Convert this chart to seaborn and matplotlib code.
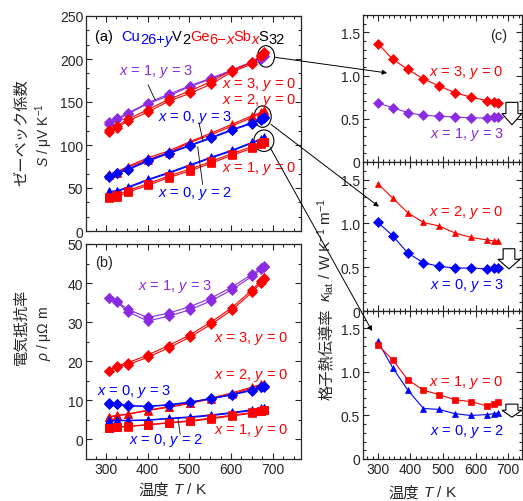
import numpy as np
import pandas as pd
import matplotlib
matplotlib.use("Agg")
import matplotlib.pyplot as plt
import matplotlib.transforms as mtransforms
from matplotlib.patches import Ellipse, FancyArrow, ConnectionPatch
from matplotlib.ticker import MultipleLocator, FuncFormatter
import seaborn as sns

# Style
sns.set_style("ticks")
plt.rcParams['font.family'] = ['Liberation Sans', 'Noto Sans CJK JP']
plt.rcParams['mathtext.fontset'] = 'custom'
plt.rcParams['mathtext.rm'] = 'Liberation Sans'
plt.rcParams['mathtext.it'] = 'Liberation Sans:italic'
plt.rcParams['axes.linewidth'] = 0.9

RED = '#ff0000'
BLUE = '#0000ff'
PURPLE = '#8a2be2'

# Temperatures (K)
T_S = [307, 327, 352, 400, 450, 502, 553, 602, 650, 672, 680]
T_K = [300, 345, 392, 440, 488, 537, 586, 635, 657, 670]

# (a) Seebeck coefficient, two runs each (uV/K)
S_x1y3_a = [125, 130, 136, 148, 157, 168, 177, 186, 196, 200, 203]
S_x1y3_b = [127, 131, 137, 149, 159, 169, 178, 187, 197, 201, 204]
S_x3_a = [115, 120, 128, 138, 151, 160, 171, 185, 194, 203, 207]
S_x3_b = [118, 122, 130, 141, 153, 163, 174, 187, 196, 205, 208]
S_x2_a = [65, 68, 74, 83, 91, 103, 112, 122, 132, 137, 140]
S_x2_b = [66, 69, 75, 85, 93, 104, 114, 124, 134, 138, 141]
S_x0y3_a = [63, 67, 71, 81, 90, 99, 108, 117, 125, 129, 131]
S_x0y3_b = [64, 68, 72, 82, 91, 100, 109, 118, 126, 130, 132]
S_x0y2_a = [45, 46, 50, 59, 67, 76, 85, 93, 102, 106, 108]
S_x0y2_b = [46, 47, 51, 60, 68, 77, 86, 94, 103, 107, 109]
S_x1_a = [38, 40, 45, 53, 62, 70, 79, 88, 96, 101, 103]
S_x1_b = [40, 42, 47, 55, 64, 72, 81, 90, 98, 102, 104]

# (b) electrical resistivity, two runs each (uOhm m)
R_x1y3_a = [36.2, 35.1, 32.7, 30.3, 31.5, 33.2, 35.5, 38.3, 41.7, 43.5, 44.1]
R_x1y3_b = [36.2, 35.3, 33.3, 31.2, 32.3, 34.0, 36.2, 39.0, 42.2, 43.8, 44.3]
R_x3_a = [17.5, 18.6, 19.1, 21.0, 23.4, 26.2, 29.5, 33.1, 37.6, 40.0, 41.1]
R_x3_b = [17.5, 18.9, 19.6, 21.6, 24.0, 26.8, 30.1, 33.7, 38.2, 40.5, 41.4]
R_x0y3_a = [9.2, 9.1, 8.7, 8.4, 8.8, 9.5, 10.4, 11.4, 12.5, 13.3, 13.5]
R_x0y3_b = [9.1, 9.0, 8.6, 8.5, 8.9, 9.6, 10.5, 11.5, 12.7, 13.4, 13.6]
R_x2_a = [5.7, 6.1, 6.4, 7.4, 8.2, 9.2, 10.4, 11.6, 13.1, 13.9, 14.2]
R_x2_b = [5.8, 6.2, 6.5, 7.5, 8.4, 9.4, 10.6, 11.9, 13.4, 14.1, 14.3]
R_x0y2_a = [4.8, 4.8, 4.8, 4.9, 5.3, 5.6, 6.1, 6.7, 7.4, 7.8, 8.0]
R_x0y2_b = [4.9, 4.9, 4.9, 5.0, 5.4, 5.8, 6.3, 6.9, 7.6, 8.0, 8.1]
R_x1_a = [2.9, 3.1, 3.3, 3.7, 4.2, 4.6, 5.3, 6.0, 6.7, 7.3, 7.5]
R_x1_b = [3.0, 3.2, 3.4, 3.8, 4.3, 4.8, 5.5, 6.2, 6.9, 7.4, 7.6]

# (c) lattice thermal conductivity (W/K/m)
K_x3 = [1.37, 1.19, 1.07, 0.96, 0.88, 0.80, 0.75, 0.71, 0.69, 0.68]
K_x1y3 = [0.68, 0.63, 0.57, 0.54, 0.53, 0.52, 0.51, 0.51, 0.52, 0.52]
K_x2 = [1.45, 1.29, 1.12, 1.01, 0.97, 0.89, 0.84, 0.81, 0.80, 0.80]
K_x0y3 = [1.01, 0.86, 0.66, 0.55, 0.51, 0.49, 0.49, 0.48, 0.49, 0.49]
K_x1 = [1.31, 1.14, 0.91, 0.79, 0.74, 0.68, 0.66, 0.61, 0.63, 0.66]
K_x0y2 = [1.35, 1.05, 0.79, 0.58, 0.57, 0.52, 0.50, 0.51, 0.52, 0.53]


def draw(ax, xs, ys, color, marker, ms=5.5):
    sns.lineplot(x=xs, y=ys, ax=ax, color=color, marker=marker, markersize=ms,
                 markeredgecolor=color, markeredgewidth=0.5, linewidth=0.8,
                 sort=False, estimator=None, legend=False)


def style(ax, xlim, ylim, xmaj, xmin, ymaj, ymin, xlabels=True):
    ax.set_xlim(*xlim)
    ax.set_ylim(*ylim)
    ax.xaxis.set_major_locator(MultipleLocator(xmaj))
    ax.xaxis.set_minor_locator(MultipleLocator(xmin))
    ax.yaxis.set_major_locator(MultipleLocator(ymaj))
    ax.yaxis.set_minor_locator(MultipleLocator(ymin))
    ax.tick_params(which='both', direction='in', top=True, right=True,
                   labelsize=10, pad=2, width=0.8)
    ax.tick_params(which='major', length=4)
    ax.tick_params(which='minor', length=2)
    ax.set_xlabel('')
    ax.set_ylabel('')
    if not xlabels:
        ax.tick_params(labelbottom=False)


def formula(ax, x0, y0, pieces, size=10.5):
    fig = ax.figure
    r = fig.canvas.get_renderer()
    dx = 0.0
    for s, c, it, sub in pieces:
        tr = mtransforms.offset_copy(ax.transAxes, fig=fig, x=dx,
                                     y=-2.5 if sub else 0, units='points')
        t = ax.text(x0, y0, s, transform=tr, color=c, fontsize=size,
                    fontstyle='italic' if it else 'normal',
                    ha='left', va='baseline')
        dx += t.get_window_extent(r).width * 72 / fig.dpi


def leader(ax, p1, p2):
    ax.annotate('', xy=p2, xytext=p1,
                arrowprops=dict(arrowstyle='-', lw=0.6, color='k',
                                shrinkA=0, shrinkB=0))


W, H = 523, 502
fig = plt.figure(figsize=(W / 100, H / 100), dpi=100)


def rect(x0, y0, x1, y1):
    return [x0 / W, 1 - y1 / H, (x1 - x0) / W, (y1 - y0) / H]


ax_a = fig.add_axes(rect(86, 17, 301, 232))
ax_b = fig.add_axes(rect(86, 245, 301, 460))
ax_c1 = fig.add_axes(rect(363, 16, 522, 163))
ax_c2 = fig.add_axes(rect(363, 163, 522, 312))
ax_c3 = fig.add_axes(rect(363, 312, 522, 460))

XL = (252, 768)
XR = (254, 743)
fs = 10.5

# ---- (a) Seebeck
for a, b, c, m in [(S_x1y3_a, S_x1y3_b, PURPLE, 'D'), (S_x3_a, S_x3_b, RED, 'D'),
                   (S_x2_a, S_x2_b, RED, '^'), (S_x0y3_a, S_x0y3_b, BLUE, 'D'),
                   (S_x0y2_a, S_x0y2_b, BLUE, '^'), (S_x1_a, S_x1_b, RED, 's')]:
    draw(ax_a, T_S, a, c, m)
    draw(ax_a, T_S, b, c, m)
style(ax_a, XL, (0, 250), 100, 25, 50, 50 / 3, xlabels=False)

formula(ax_a, 0.042, 0.89, [
    ('(a)  ', 'k', False, False), ('Cu', BLUE, False, False),
    ('26+', BLUE, False, True), ('y', BLUE, True, True),
    ('V', 'k', False, False), ('2', 'k', False, True),
    ('Ge', RED, False, False), ('6\u2212', RED, False, True),
    ('x', RED, True, True), ('Sb', RED, False, False),
    ('x', RED, True, True), ('S', 'k', False, False), ('32', 'k', False, True)])

ax_a.text(420, 187, '$x$ = 1, $y$ = 3', color=PURPLE, fontsize=fs, ha='center', va='center')
ax_a.text(757, 172, '$x$ = 3, $y$ = 0', color=RED, fontsize=fs, ha='right', va='center')
ax_a.text(757, 153, '$x$ = 2, $y$ = 0', color=RED, fontsize=fs, ha='right', va='center')
ax_a.text(513, 133, '$x$ = 0, $y$ = 3', color=BLUE, fontsize=fs, ha='center', va='center')
ax_a.text(757, 74, '$x$ = 1, $y$ = 0', color=RED, fontsize=fs, ha='right', va='center')
ax_a.text(513, 45, '$x$ = 0, $y$ = 2', color=BLUE, fontsize=fs, ha='center', va='center')
leader(ax_a, (401, 170), (418, 152))
leader(ax_a, (523, 126), (533, 104))
leader(ax_a, (520, 98), (532, 54))

for cx, cy, w in [(684, 203, 41), (676, 133, 41), (679, 105, 48)]:
    ax_a.add_patch(Ellipse((cx, cy), w, 25, fill=False, ec='k', lw=0.8))

# ---- (b) resistivity
for a, b, c, m in [(R_x1y3_a, R_x1y3_b, PURPLE, 'D'), (R_x3_a, R_x3_b, RED, 'D'),
                   (R_x2_a, R_x2_b, RED, '^'), (R_x0y3_a, R_x0y3_b, BLUE, 'D'),
                   (R_x0y2_a, R_x0y2_b, BLUE, '^'), (R_x1_a, R_x1_b, RED, 's')]:
    draw(ax_b, T_S, a, c, m)
    draw(ax_b, T_S, b, c, m)
style(ax_b, XL, (-5, 50), 100, 25, 10, 5)
ax_b.text(0.042, 0.916, '(b)', transform=ax_b.transAxes, fontsize=10.5, va='center')
ax_b.text(465, 39.4, '$x$ = 1, $y$ = 3', color=PURPLE, fontsize=fs, ha='center', va='center')
ax_b.text(738, 26.2, '$x$ = 3, $y$ = 0', color=RED, fontsize=fs, ha='right', va='center')
ax_b.text(738, 16.6, '$x$ = 2, $y$ = 0', color=RED, fontsize=fs, ha='right', va='center')
ax_b.text(367, 12.5, '$x$ = 0, $y$ = 3', color=BLUE, fontsize=fs, ha='center', va='center')
ax_b.text(738, 2.6, '$x$ = 1, $y$ = 0', color=RED, fontsize=fs, ha='right', va='center')
ax_b.text(444, -0.1, '$x$ = 0, $y$ = 2', color=BLUE, fontsize=fs, ha='center', va='center')
leader(ax_b, (473, 5.2), (478, 1.3))

# ---- (c) lattice thermal conductivity
panels = [(ax_c1, K_x3, RED, 'D', '$x$ = 3, $y$ = 0', 1.05, K_x1y3, PURPLE, 'D', '$x$ = 1, $y$ = 3', 0.335),
          (ax_c2, K_x2, RED, '^', '$x$ = 2, $y$ = 0', 1.13, K_x0y3, BLUE, 'D', '$x$ = 0, $y$ = 3', 0.305),
          (ax_c3, K_x1, RED, 's', '$x$ = 1, $y$ = 0', 0.89, K_x0y2, BLUE, '^', '$x$ = 0, $y$ = 2', 0.33)]
fmt = FuncFormatter(lambda v, p: '0' if abs(v) < 1e-9 else f'{v:.1f}')
for i, (ax, k1, c1, m1, l1, y1, k2, c2, m2, l2, y2) in enumerate(panels):
    draw(ax, T_K, k2, c2, m2, ms=5)
    draw(ax, T_K, k1, c1, m1, ms=5)
    style(ax, XR, (0, 1.7), 100, 100 / 6, 0.5, 0.1, xlabels=(i == 2))
    ax.yaxis.set_major_formatter(fmt)
    ax.text(687, y1, l1, color=c1, fontsize=fs, ha='right', va='center')
    ax.text(687, y2, l2, color=c2, fontsize=fs, ha='right', va='center')
ax_c1.text(697, 1.47, '(c)', fontsize=10.5, ha='right', va='center')

# hollow down arrows
for ax, cx, top, tip, hw, sw, hl in [(ax_c1, 712, 0.69, 0.43, 61, 37, 0.13),
                                     (ax_c2, 703, 0.71, 0.48, 68, 36, 0.11),
                                     (ax_c3, 712, 0.63, 0.48, 61, 37, 0.08)]:
    ax.add_patch(FancyArrow(cx, top, 0, tip - top, width=sw, head_width=hw,
                            head_length=hl, length_includes_head=True,
                            fc='white', ec='k', lw=0.8, clip_on=False, zorder=5))

# arrows from ellipses to right panels
for (xa, ya), axr, (xb, yb) in [((705, 202), ax_c1, (328, 1.03)),
                                ((696, 124), ax_c2, (303, 1.19)),
                                ((694, 97), ax_c3, (282, 1.47))]:
    con = ConnectionPatch(xyA=(xa, ya), coordsA=ax_a.transData,
                          xyB=(xb, yb), coordsB=axr.transData,
                          arrowstyle='-|>', mutation_scale=7, lw=0.7, color='k',
                          shrinkA=0, shrinkB=0, zorder=6)
    fig.add_artist(con)


# axis labels (Japanese and math parts kept as separate texts)
def ftext(x, y, s, **kw):
    fig.text(x / W, 1 - y / H, s, **kw)


ftext(22, 133, 'ゼーベック係数', rotation=90, fontsize=11, ha='center', va='center')
ftext(44, 135, '$S$ / μV K$^{-1}$', rotation=90, fontsize=10, ha='center', va='center')
ftext(22, 327, '電気抵抗率', rotation=90, fontsize=11, ha='center', va='center')
ftext(44, 334, '$\\rho$ / μΩ m', rotation=90, fontsize=10, ha='center', va='center')
ftext(326, 400, '格子熱伝導率', rotation=90, fontsize=11, ha='center', va='bottom')
ftext(326, 302, '$\\kappa_{\\rm lat}$ / W K$^{-1}$ m$^{-1}$', rotation=90,
      fontsize=11, ha='center', va='bottom')
ftext(169, 490, '温度', fontsize=11, ha='right', va='center')
ftext(173, 490, '$T$ / K', fontsize=11, ha='left', va='center')
ftext(419, 493, '温度', fontsize=11, ha='right', va='center')
ftext(423, 493, '$T$ / K', fontsize=11, ha='left', va='center')

fig.savefig('out.png', dpi=100)
